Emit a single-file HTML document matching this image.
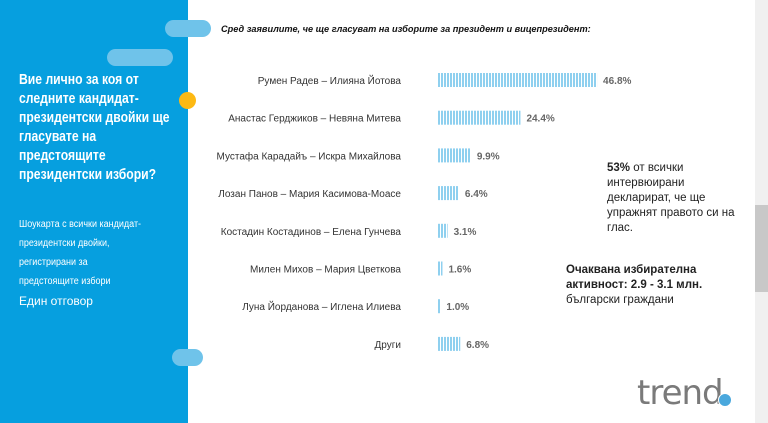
<!DOCTYPE html>
<html><head><meta charset="utf-8"><style>
body{margin:0;width:768px;height:423px;overflow:hidden;background:#fff;font-family:"Liberation Sans",sans-serif;position:relative}
.abs{position:absolute}
#panel{left:0;top:0;width:188px;height:423px;background:#069fdf}
.pill{background:#6fc3ea;border-radius:9px;height:17px}
#q{left:19px;top:71px;width:190px;color:#fff;font-weight:bold;font-size:14.5px;line-height:19px;transform:scaleX(0.84);transform-origin:left}
#sub{left:19px;top:215px;width:150px;color:#fff;font-size:10px;line-height:19px;transform:scaleX(0.9);transform-origin:left}
#one{left:19px;top:294px;color:#fff;font-size:12px}
#title{left:221px;top:24px;font-size:9.2px;font-weight:bold;font-style:italic;color:#111}
.note{font-size:11.5px;color:#222;line-height:15px}
#strip{left:755px;top:0;width:13px;height:423px;background:#f0f0f0}
#thumb{left:755px;top:205px;width:13px;height:87px;background:#c8c8c8}
</style></head><body>
<div id="panel" class="abs"></div>
<div class="abs pill" style="left:165px;top:20px;width:46px"></div>
<div class="abs pill" style="left:107px;top:49px;width:66px"></div>
<div class="abs pill" style="left:172px;top:349px;width:31px"></div>
<div class="abs" style="left:179px;top:92px;width:17px;height:17px;border-radius:50%;background:#fdb913"></div>
<div id="q" class="abs">Вие лично за коя от следните кандидат-президентски двойки ще гласувате на предстоящите президентски избори?</div>
<div id="sub" class="abs">Шоукарта с всички кандидат-<br>президентски двойки,<br>регистрирани за<br>предстоящите избори</div>
<div id="one" class="abs">Един отговор</div>
<div id="title" class="abs">Сред заявилите, че ще гласуват на изборите за президент и вицепрезидент:</div>
<svg class="abs" style="left:0;top:0" width="768" height="423">
<defs><pattern id="st" width="3" height="10" patternUnits="userSpaceOnUse"><rect width="3" height="10" fill="#fff"/><rect width="2" height="10" fill="#8fd0ef"/></pattern></defs>
<g id="g"></g></svg>
<div class="abs note" style="left:607px;top:161px;width:140px"><b>53%</b> от всички интервюирани декларират, че ще упражнят правото си на глас.</div>
<div class="abs note" style="left:566px;top:263px;width:150px"><b>Очаквана избирателна активност: 2.9 - 3.1 млн.</b> български граждани</div>
<div class="abs" style="left:637px;top:373px;font-size:34px;color:#7a7a7a;letter-spacing:-1px;font-family:'DejaVu Sans',sans-serif">trend</div>
<div class="abs" style="left:718px;top:393px;width:12px;height:12px;border-radius:50%;background:#4aa8dd;border:1px solid #fff"></div>
<div id="strip" class="abs"></div>
<div id="thumb" class="abs"></div>
<script>
const categories=["Румен Радев – Илияна Йотова","Анастас Герджиков – Невяна Митева","Мустафа Карадайъ – Искра Михайлова","Лозан Панов – Мария Касимова-Моасе","Костадин Костадинов – Елена Гунчева","Милен Михов – Мария Цветкова","Луна Йорданова – Иглена Илиева","Други"];
const values=[46.8,24.4,9.9,6.4,3.1,1.6,1.0,6.8];
const labels=["46.8%","24.4%","9.9%","6.4%","3.1%","1.6%","1.0%","6.8%"];
const x0=437,k=3.42,yTop=80,step=37.7,bh=14;
const xs=v=>Math.max(3,v*k);
const ys=i=>yTop+i*step;
const g=document.getElementById('g');
const NS="http://www.w3.org/2000/svg";
categories.forEach((c,i)=>{
 const y=ys(i);
 const t=document.createElementNS(NS,'text');
 
 
 t.setAttribute('x',401);t.setAttribute('y',y+4);t.setAttribute('text-anchor','end');
 t.setAttribute('font-size','10');t.setAttribute('fill','#333');t.textContent=c;g.appendChild(t);
 const r=document.createElementNS(NS,'rect');
 
 
 const w=xs(values[i]);
 r.setAttribute('x',x0);r.setAttribute('y',y-bh/2);r.setAttribute('width',w);r.setAttribute('height',bh);r.setAttribute('fill','url(#st)');g.appendChild(r);
 const v=document.createElementNS(NS,'text');
 
 
 v.setAttribute('x',x0+w+6);v.setAttribute('y',y+4);v.setAttribute('font-size','10');v.setAttribute('font-weight','bold');v.setAttribute('fill','#666');v.textContent=labels[i];g.appendChild(v);
});
</script>
</body></html>
